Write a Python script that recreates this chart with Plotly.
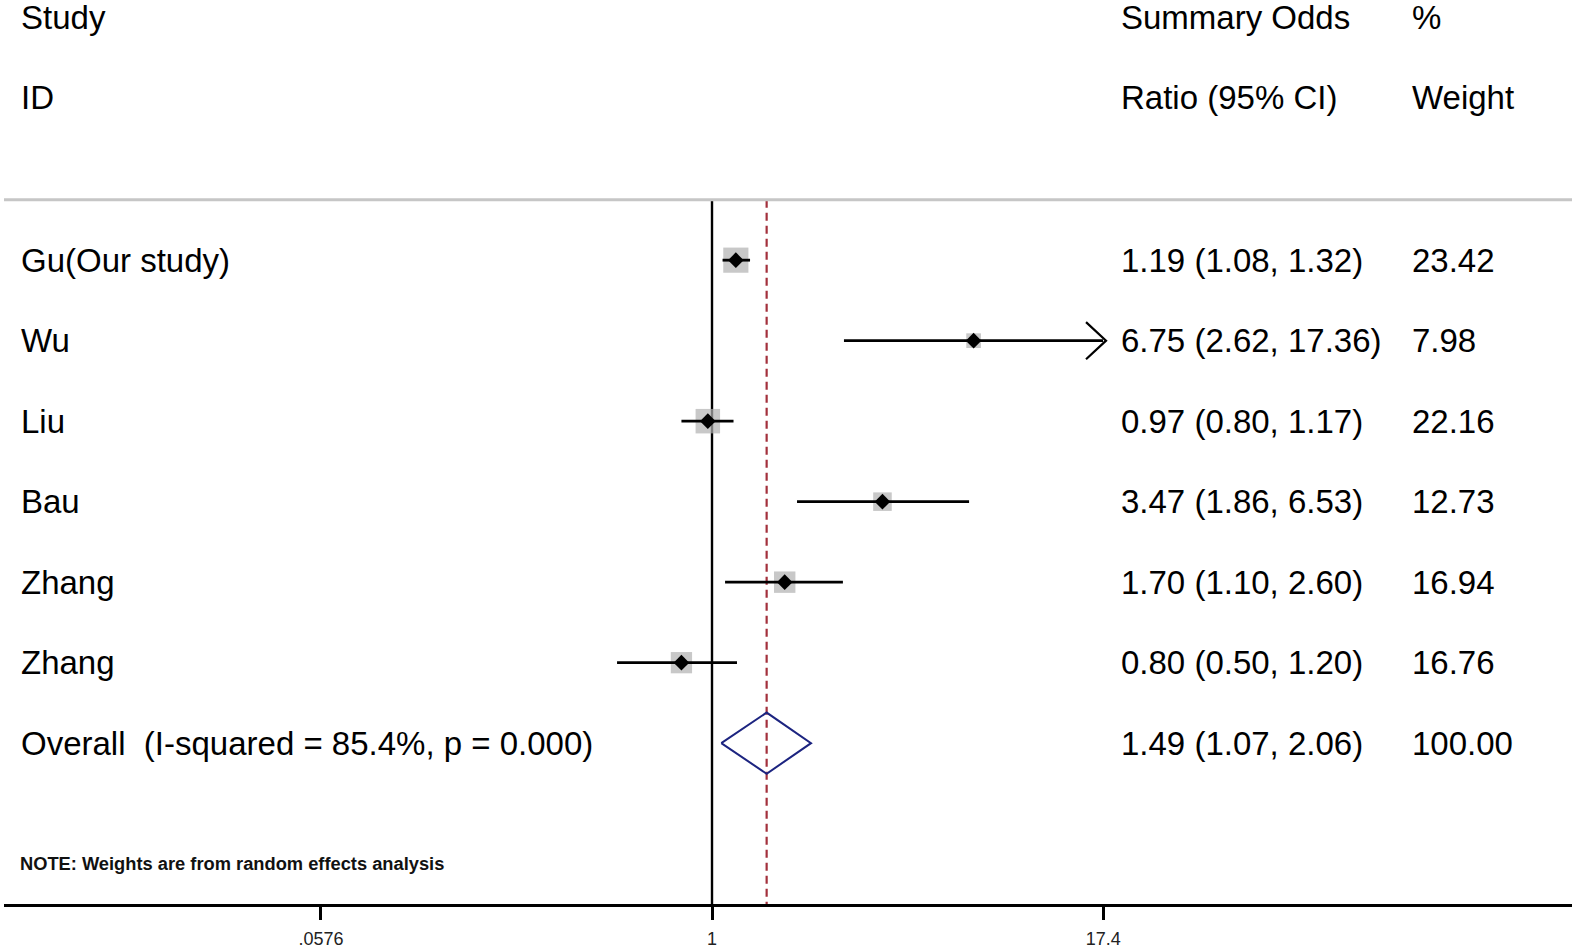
import math
import plotly.graph_objects as go

# ---- data ----
studies = ["Gu(Our study)", "Wu", "Liu", "Bau", "Zhang", "Zhang"]
odds = [1.19, 6.75, 0.97, 3.47, 1.70, 0.80]
lower = [1.08, 2.62, 0.80, 1.86, 1.10, 0.50]
upper = [1.32, 17.36, 1.17, 6.53, 2.60, 1.20]
weights = [23.42, 7.98, 22.16, 12.73, 16.94, 16.76]
overall_label = "Overall  (I-squared = 85.4%, p = 0.000)"
overall = [1.49, 1.07, 2.06]
overall_weight = 100.00
tick_vals = [0.0576, 1, 17.4]
tick_text = [".0576", "1", "17.4"]
note = "NOTE: Weights are from random effects analysis"

# ---- geometry helpers (layout only) ----
W, H = 1575, 948
ML, MR, MT, MB = 4, 3, 0, 44
X_RANGE = [-2.2444, 2.7262]        # log10 range
Y_RANGE = [7.998, -3.232]          # rows (reversed)
clip_max = tick_vals[-1]

def px(xp):
    return (xp - ML) / (W - ML - MR)

FONT = "Liberation Sans, Arial, sans-serif"
fig = go.Figure()

rows = list(range(len(studies)))
y_top = -0.75
y_bot = Y_RANGE[0]

# reference lines
fig.add_trace(go.Scatter(x=[1, 1], y=[y_top, y_bot], mode="lines",
                         line=dict(color="black", width=2.4), hoverinfo="skip", showlegend=False))
fig.add_trace(go.Scatter(x=[overall[0], overall[0]], y=[y_top, y_bot], mode="lines",
                         line=dict(color="#a3303c", width=2.2, dash="8px,5px"),
                         hoverinfo="skip", showlegend=False))

# weight boxes
fig.add_trace(go.Scatter(x=odds, y=rows, mode="markers",
                         marker=dict(symbol="square", color="#b0b0b0",
                                     size=[5.2 * math.sqrt(w) for w in weights],
                                     line=dict(width=0)),
                         hoverinfo="skip", showlegend=False))

# CI lines
for i in rows:
    hi = min(upper[i], clip_max)
    fig.add_trace(go.Scatter(x=[lower[i], hi], y=[i, i], mode="lines",
                             line=dict(color="black", width=2.8),
                             hoverinfo="skip", showlegend=False))
    if upper[i] >= clip_max * 0.99:
        back = hi * math.exp(-17 / 137)
        fig.add_trace(go.Scatter(x=[back, hi * math.exp(3 / 137), back],
                                 y=[i - 0.23, i, i + 0.23], mode="lines",
                                 line=dict(color="black", width=2.2),
                                 hoverinfo="skip", showlegend=False))

# point estimates
fig.add_trace(go.Scatter(x=odds, y=rows, mode="markers",
                         marker=dict(symbol="diamond", color="black", size=12),
                         hoverinfo="skip", showlegend=False))

# overall diamond
oy = len(studies)
fig.add_trace(go.Scatter(x=[overall[1], overall[0], overall[2], overall[0], overall[1]],
                         y=[oy, oy - 0.38, oy, oy + 0.38, oy], mode="lines",
                         line=dict(color="#1c2480", width=2),
                         hoverinfo="skip", showlegend=False))

# gray separator line
fig.add_shape(type="line", xref="paper", yref="y", x0=0, x1=1, y0=y_top, y1=y_top,
              line=dict(color="#c6c6c6", width=3))

# text columns
def txt(x, y, s, size=33):
    fig.add_annotation(x=px(x), y=y, xref="paper", yref="y", text=s, showarrow=False,
                       xanchor="left", yanchor="middle",
                       font=dict(family=FONT, size=size, color="black"))

XL, XM, XR = 19, 1119, 1410
txt(XL, -3.02, "Study")
txt(XL, -2.02, "ID")
txt(XM, -3.02, "Summary Odds")
txt(XM, -2.02, "Ratio (95% CI)")
txt(XR, -3.02, "%")
txt(XR, -2.02, "Weight")

for i in rows:
    txt(XL, i, studies[i])
    txt(XM, i, f"{odds[i]:.2f} ({lower[i]:.2f}, {upper[i]:.2f})")
    txt(XR, i, f"{weights[i]:.2f}")
txt(XL, oy, overall_label)
txt(XM, oy, f"{overall[0]:.2f} ({overall[1]:.2f}, {overall[2]:.2f})")
txt(XR, oy, f"{overall_weight:.2f}")

fig.add_annotation(x=px(18), y=7.5, xref="paper", yref="y", text=note, showarrow=False,
                   xanchor="left", yanchor="middle",
                   font=dict(family=FONT, size=18.3, color="#111111", weight="bold"))

fig.update_layout(
    width=W, height=H,
    margin=dict(l=ML, r=MR, t=MT, b=MB, pad=0),
    paper_bgcolor="white", plot_bgcolor="white",
    xaxis=dict(type="log", range=X_RANGE, tickvals=tick_vals, ticktext=tick_text,
               ticks="outside", ticklen=13, tickwidth=3, tickcolor="black",
               showline=True, linewidth=3, linecolor="black",
               showgrid=False, zeroline=False, ticklabelstandoff=3,
               tickfont=dict(family=FONT, size=18, color="#222222")),
    yaxis=dict(range=Y_RANGE, visible=False, showgrid=False, zeroline=False),
)

fig.write_html("out.html",
               config={"displayModeBar": False},
               post_script="document.body.style.margin='0';document.body.style.overflow='hidden';")
